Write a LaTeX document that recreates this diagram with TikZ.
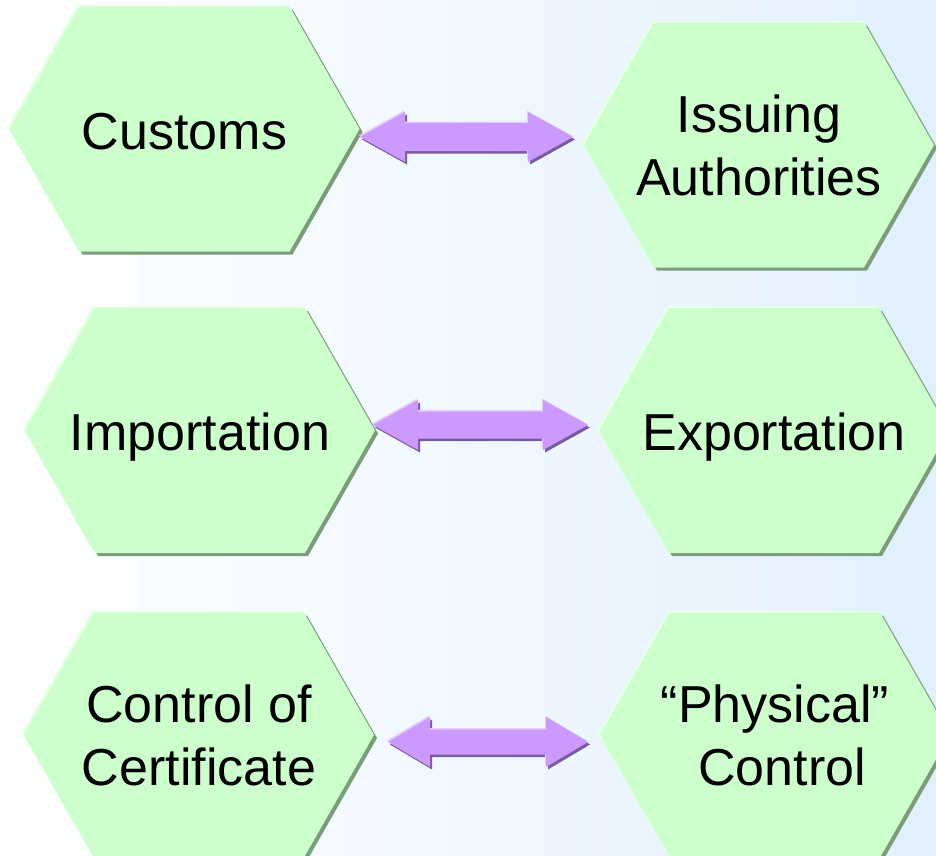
\documentclass[tikz,border=0pt]{standalone}
\usepackage{fontspec}
\setmainfont{Liberation Sans}
\usetikzlibrary{calc}
\definecolor{hexfill}{RGB}{204,255,204}
\definecolor{hexshade}{RGB}{122,156,122}
\definecolor{hexlight}{RGB}{232,255,232}
\definecolor{arrfill}{RGB}{204,153,255}
\definecolor{arrshade}{RGB}{122,92,158}
\definecolor{arrlight}{RGB}{228,204,255}
\definecolor{bgright}{RGB}{225,240,254}
\pgfdeclarelayer{bg}
\pgfdeclarelayer{shapes}
\pgfsetlayers{bg,shapes,main}
\newcommand\hexpath[1]{($(#1)+(-175,0)$) -- ($(#1)+(-105,-122.5)$) -- ($(#1)+(105,-122.5)$) -- ($(#1)+(175,0)$) -- ($(#1)+(105,122.5)$) -- ($(#1)+(-105,122.5)$) -- cycle}
\newcommand\hexat[1]{%
  \fill[hexshade,transform canvas={xshift=3pt,yshift=-3pt}] \hexpath{#1};
  \fill[hexlight,transform canvas={xshift=-2pt,yshift=2pt}] \hexpath{#1};
  \fill[hexfill] \hexpath{#1};
}
% #1 start, #2 end, #3 head length, #4 head half height, #5 shaft half height
\newcommand\arrpath[5]{(#1) -- ($(#1)+(#3,-#4)$) -- ($(#1)+(#3,-#5)$) -- ($(#2)+(-#3,-#5)$) -- ($(#2)+(-#3,-#4)$) -- (#2) -- ($(#2)+(-#3,#4)$) -- ($(#2)+(-#3,#5)$) -- ($(#1)+(#3,#5)$) -- ($(#1)+(#3,#4)$) -- cycle}
\newcommand\dblarrow[5]{%
  \fill[arrshade,transform canvas={xshift=2pt,yshift=-2.5pt}] \arrpath{#1}{#2}{#3}{#4}{#5};
  \fill[arrlight,transform canvas={xshift=-1pt,yshift=1.5pt}] \arrpath{#1}{#2}{#3}{#4}{#5};
  \fill[arrfill] \arrpath{#1}{#2}{#3}{#4}{#5};
}
\tikzset{
  hexlbl/.style={font=\fontsize{52}{63}\selectfont, align=center, inner sep=0pt, text height=40pt, text depth=0pt},
  hexlbltwo/.style={hexlbl, text height=101pt, text depth=1pt},
}
\begin{document}
\begin{tikzpicture}[x=1pt,y=-1pt]
\useasboundingbox (0,0) rectangle (936,855);
\clip (0,0) rectangle (936,855);
\node[hexlbl] (customs) at (184.5,129) {Customs};
\node[hexlbltwo] (issuing) at (759,145) {Issuing\\Authorities};
\node[hexlbl] (import) at (200,430.5) {Importation};
\node[hexlbl] (export) at (774,430.5) {Exportation};
\node[hexlbltwo] (control) at (199,735) {Control of\\Certificate};
\node[hexlbltwo] (physical) at (775,735) {“Physical”\\\hspace*{0.278em}Control};
\coordinate (a1s) at ($(customs)+(175.5,8)$);
\coordinate (a1e) at ($(issuing)+(-186,-8)$);
\coordinate (a2s) at ($(import)+(173,-5.5)$);
\coordinate (a2e) at ($(export)+(-186,-5.5)$);
\coordinate (a3s) at ($(control)+(189,7)$);
\coordinate (a3e) at ($(physical)+(-187,7)$);
\begin{pgfonlayer}{bg}
\fill[left color=white, right color=bgright] (0,0) rectangle (936,855);
\end{pgfonlayer}
\begin{pgfonlayer}{shapes}
\hexat{customs}
\hexat{issuing}
\hexat{import}
\hexat{export}
\hexat{control}
\hexat{physical}
\dblarrow{a1s}{a1e}{45}{25}{14}
\dblarrow{a2s}{a2e}{45}{25}{13.5}
\dblarrow{a3s}{a3e}{42}{25}{12.5}
\end{pgfonlayer}
\end{tikzpicture}
\end{document}
